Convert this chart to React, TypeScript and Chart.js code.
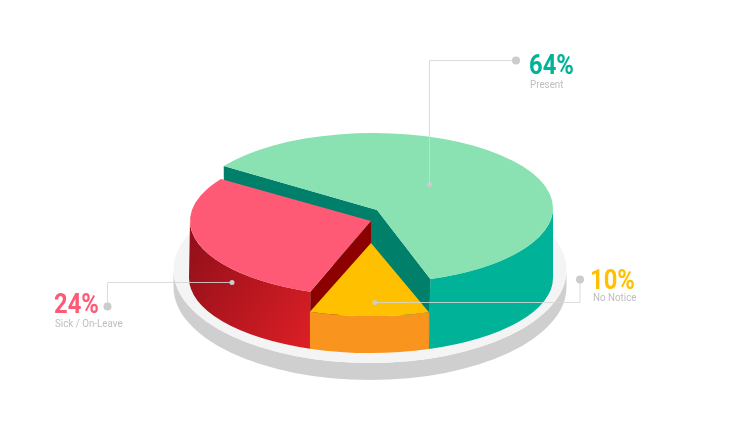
import React, { useEffect, useRef } from "react";
import { Chart, registerables } from "chart.js";

Chart.register(...registerables);

// Slices as drawn in the picture, in clockwise order from the upper left.
const categories = ["Present", "No Notice", "Sick / On-Leave"];
const drawnShares = [60.4, 10.6, 29.0];
const printedLabels = ["64%", "10%", "24%"];

const topColors = ["#8ae2b2", "#ffc000", "#ff5a75"];
const labelColors = ["#00b398", "#ffc000", "#ff5a75"];
const sideColors = ["#00b398", "#f9951f", "#d91e25"];

const CX = 371;
const BASE_Y = 278;
const RX = 182;
const RY = 75;
const topCenters = [
  { x: 373, y: 208, rx: 180, ry: 75, apexX: 377, apexY: 210 },
  { x: 371, y: 242, rx: 182, ry: 74, apexX: 371, apexY: 243 },
  { x: 371, y: 221, rx: 181, ry: 75, apexX: 371, apexY: 221 },
];

const callouts = [
  { path: [[429.5, 184], [429.5, 60], [516, 60]], numX: 529, numY: 73.5, subX: 530, subY: 88 },
  { path: [[375, 302], [580, 302], [580, 279]], numX: 590, numY: 288.5, subX: 593, subY: 301 },
  { path: [[232, 282], [107.5, 282], [107.5, 306]], numX: 54, numY: 313, subX: 55, subY: 327 },
];

const TAU = Math.PI * 2;

function fillWall(ctx: CanvasRenderingContext2D, i: number, start: number, end: number, color: any) {
  const t = topCenters[i];
  ctx.beginPath();
  ctx.ellipse(t.x, t.y, t.rx, t.ry, 0, start, end, false);
  ctx.ellipse(CX, BASE_Y, RX, RY, 0, end, start, true);
  ctx.closePath();
  ctx.fillStyle = color;
  ctx.fill();
}

const pie3d = {
  id: "pie3d",
  beforeDatasetsDraw(chart: any) {
    const ctx: CanvasRenderingContext2D = chart.ctx;
    const arcs = chart.getDatasetMeta(0).data;
    ctx.save();

    // Platform and its shadow
    ctx.fillStyle = "#cfcfcf";
    ctx.beginPath();
    ctx.ellipse(370, 270, 196.5, 93, 0, 0, Math.PI);
    ctx.lineTo(173.5, 287);
    ctx.ellipse(370, 287, 196.5, 93, 0, Math.PI, 0, true);
    ctx.closePath();
    ctx.fill();
    ctx.fillStyle = "#f4f4f4";
    ctx.beginPath();
    ctx.ellipse(370, 270, 196.5, 93, 0, 0, TAU);
    ctx.fill();

    const [green, yellow, red] = arcs;
    const gStart = green.startAngle;
    const gEnd = green.endAngle;
    const pt = (i: number, a: number) => [
      topCenters[i].x + topCenters[i].rx * Math.cos(a),
      topCenters[i].y + topCenters[i].ry * Math.sin(a),
    ];

    // Green outer wall (front part only)
    fillWall(ctx, 0, TAU, Math.max(gEnd, TAU), sideColors[0]);

    // Green inner wall
    const gl = pt(0, gStart);
    const gr = pt(0, gEnd);
    const baseR = [CX + RX * Math.cos(gEnd), BASE_Y + RY * Math.sin(gEnd)];
    ctx.fillStyle = "#007f6b";
    ctx.beginPath();
    ctx.moveTo(gl[0], gl[1]);
    ctx.lineTo(topCenters[0].apexX, topCenters[0].apexY);
    ctx.lineTo(gr[0], gr[1]);
    ctx.lineTo(baseR[0], baseR[1]);
    ctx.lineTo(CX, BASE_Y);
    ctx.lineTo(gl[0], gl[1] + 60);
    ctx.closePath();
    ctx.fill();

    // Red outer and inner walls
    const grad = ctx.createLinearGradient(190, 250, 312, 330);
    grad.addColorStop(0, "#96101a");
    grad.addColorStop(1, sideColors[2]);
    fillWall(ctx, 2, red.startAngle, Math.PI, grad);
    const rs = pt(2, red.startAngle);
    const rBase = [CX + RX * Math.cos(red.startAngle), BASE_Y + RY * Math.sin(red.startAngle)];
    ctx.fillStyle = "#8c0000";
    ctx.beginPath();
    ctx.moveTo(topCenters[2].apexX, topCenters[2].apexY);
    ctx.lineTo(rs[0], rs[1]);
    ctx.lineTo(rBase[0], rBase[1]);
    ctx.lineTo(CX, BASE_Y);
    ctx.closePath();
    ctx.fill();

    // Orange wall
    fillWall(ctx, 1, yellow.startAngle, yellow.endAngle, sideColors[1]);

    // Top faces
    arcs.forEach((arc: any, i: number) => {
      const t = topCenters[i];
      ctx.fillStyle = topColors[i];
      ctx.beginPath();
      ctx.ellipse(t.x, t.y, t.rx, t.ry, 0, arc.startAngle, arc.endAngle, false);
      ctx.lineTo(t.apexX, t.apexY);
      ctx.closePath();
      ctx.fill();
    });

    ctx.restore();
    return false;
  },
  afterDraw(chart: any) {
    const ctx: CanvasRenderingContext2D = chart.ctx;
    ctx.save();
    callouts.forEach((c, i) => {
      ctx.strokeStyle = "rgba(214,214,214,0.85)";
      ctx.lineWidth = 1;
      ctx.beginPath();
      c.path.forEach(([x, y], k) => {
        const py = y + 0.5;
        if (k === 0) ctx.moveTo(x, py);
        else ctx.lineTo(x, py);
      });
      ctx.stroke();
      ctx.fillStyle = "#cccccc";
      [c.path[0], c.path[c.path.length - 1]].forEach(([x, y], k) => {
        ctx.beginPath();
        ctx.arc(x, y + 0.5, k === 0 ? 2.5 : 4, 0, TAU);
        ctx.fill();
      });

      ctx.textBaseline = "alphabetic";
      ctx.textAlign = "left";
      ctx.save();
      ctx.translate(c.numX, c.numY);
      ctx.scale(0.88, 1);
      ctx.font = "700 27px Roboto";
      ctx.fillStyle = labelColors[i];
      ctx.fillText(printedLabels[i], 0, 0);
      ctx.restore();
      ctx.save();
      ctx.translate(c.subX, c.subY);
      ctx.scale(0.89, 1);
      ctx.font = "400 11px Roboto";
      ctx.fillStyle = "#bdbdbd";
      ctx.fillText(categories[i], 0, 0);
      ctx.restore();
    });
    ctx.restore();
  },
};

export default function App() {
  const ref = useRef<HTMLCanvasElement | null>(null);
  useEffect(() => {
    document.body.style.margin = "0";
    const chart = new Chart(ref.current as HTMLCanvasElement, {
      type: "pie",
      data: {
        labels: categories,
        datasets: [{ data: drawnShares, backgroundColor: topColors, borderWidth: 0 }],
      },
      options: {
        responsive: false,
        animation: false,
        rotation: 304,
        plugins: { legend: { display: false }, tooltip: { enabled: false } },
      },
      plugins: [pie3d],
    } as any);
    return () => chart.destroy();
  }, []);
  return (
    <div style={{ position: "absolute", left: 0, top: 0, width: 750, height: 422, background: "#fff" }}>
      <canvas ref={ref} width={750} height={422} style={{ display: "block" }} />
    </div>
  );
}
